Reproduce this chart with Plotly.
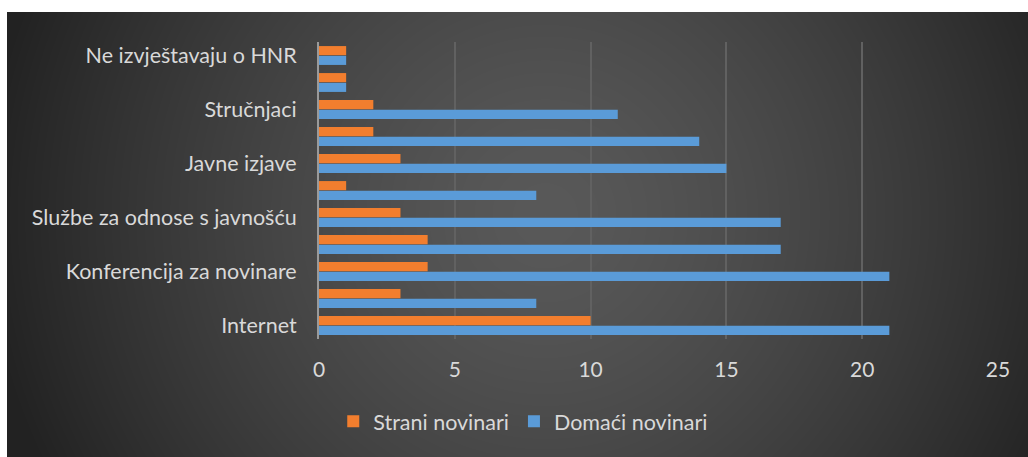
import base64, struct, zlib
import numpy as np
import plotly.graph_objects as go

# ---- data (bottom to top) ----
categories = ["Internet", "", "Konferencija za novinare", "", "Službe za odnose s javnošću", "",
              "Javne izjave", "", "Stručnjaci", "", "Ne izvještavaju o HNR"]
domaci = [21, 8, 21, 17, 17, 8, 15, 14, 11, 1, 1]
strani = [10, 3, 4, 4, 3, 1, 3, 2, 2, 1, 1]
x_ticks = [0, 5, 10, 15, 20, 25]

W, H = 1028, 457
L, R, T, B = 319, 30, 42, 118

# ---- radial gradient background image ----
bx0, by0 = 7, 12
bw, bh = W - bx0, H - by0
yy, xx = np.mgrid[0:bh, 0:bw].astype(float)
cx, cy = 545 - bx0, 215 - by0
r = np.sqrt((xx - cx) ** 2 + (yy - cy) ** 2) / 565.0
r = np.clip(r, 0, 1)
val = 0x59 - (0x59 - 0x22) * r ** 1.4
img = np.clip(val, 0, 255).astype(np.uint8)

def chunk(tag, data):
    return struct.pack(">I", len(data)) + tag + data + struct.pack(">I", zlib.crc32(tag + data) & 0xffffffff)

raw = b"".join(b"\x00" + row.tobytes() for row in img)
png = (b"\x89PNG\r\n\x1a\n" + chunk(b"IHDR", struct.pack(">IIBBBBB", bw, bh, 8, 0, 0, 0, 0))
       + chunk(b"IDAT", zlib.compress(raw, 9)) + chunk(b"IEND", b""))
uri = "data:image/png;base64," + base64.b64encode(png).decode()

pw, ph = W - L - R, H - T - B

pos = list(range(len(categories)))
fig = go.Figure()
fig.add_trace(go.Bar(y=pos, x=domaci, orientation="h", name="Domaći novinari",
                     marker=dict(color="#5A9BD8", line=dict(width=0))))
fig.add_trace(go.Bar(y=pos, x=strani, orientation="h", name="Strani novinari",
                     marker=dict(color="#F27E2E", line=dict(width=0))))

tickvals = [p for p, c in zip(pos, categories) if c]
ticktext = [c for c in categories if c]

FS = 21.5
fig.update_layout(
    width=W, height=H,
    margin=dict(l=L, r=R, t=T, b=B),
    paper_bgcolor="white",
    plot_bgcolor="rgba(0,0,0,0)",
    barmode="group", bargap=0.28, bargroupgap=0.06,
    font=dict(family="Lato, Open Sans, sans-serif", size=FS, color="#D9D9D9"),
    images=[dict(source=uri, xref="paper", yref="paper",
                 x=(bx0 - L) / pw, y=(H - B - by0) / ph,
                 sizex=bw / pw, sizey=bh / ph,
                 xanchor="left", yanchor="top", sizing="stretch", layer="below")],
    xaxis=dict(range=[0, 25], tickvals=x_ticks, showgrid=True, gridcolor="#616161", gridwidth=2,
               zeroline=False, showline=False, ticks="", ticklabelstandoff=16,
               tickfont=dict(size=21, color="#D9D9D9"), fixedrange=True),
    yaxis=dict(range=[-0.5, len(categories) - 0.5], tickvals=tickvals, ticktext=ticktext,
               showgrid=False, zeroline=False, showline=True, linecolor="#9A9A9A", linewidth=2,
               ticks="", ticklabelstandoff=16, tickfont=dict(size=FS, color="#D9D9D9"), fixedrange=True),
    legend=dict(orientation="h", traceorder="reversed", xref="container", yref="container",
                x=0.509, y=0.078, xanchor="center", yanchor="middle",
                font=dict(size=FS, color="#D9D9D9"), bgcolor="rgba(0,0,0,0)"),
    showlegend=True,
)

fig.write_html("out.html", config={"displayModeBar": False},
               post_script="document.body.style.margin='0';document.body.style.overflow='hidden';")
